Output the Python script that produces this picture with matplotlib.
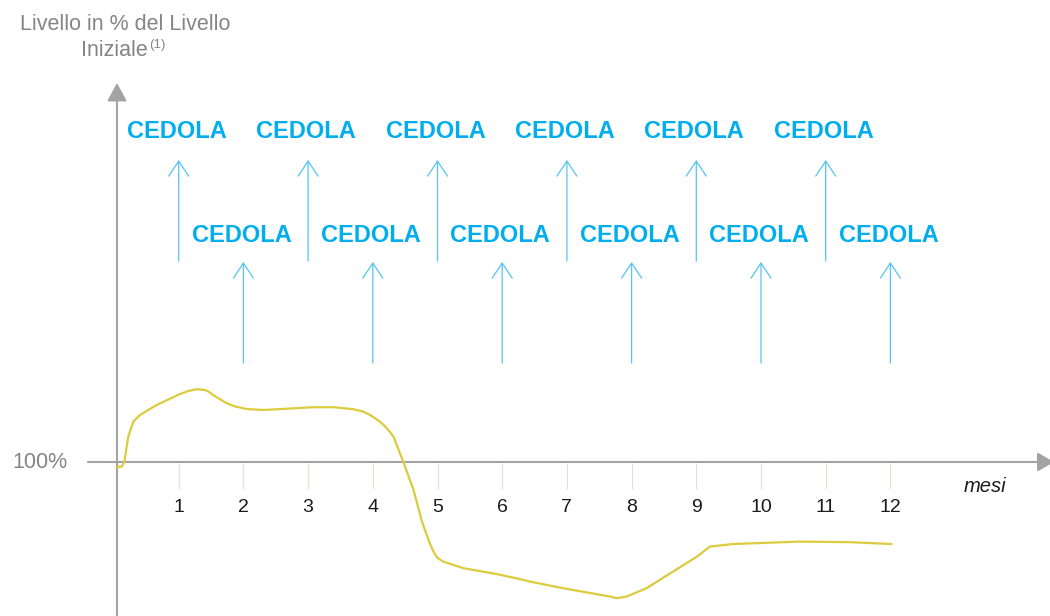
"""
Schematic payoff chart: level (% of initial level) over 12 months,
with monthly coupon ("CEDOLA") arrows above the axis.
"""

import matplotlib

matplotlib.use("Agg")
import matplotlib.pyplot as plt

plt.rcParams["font.family"] = ["Liberation Sans", "DejaVu Sans"]

# ---- data -------------------------------------------------------------
months = list(range(1, 13))
month_labels = [str(m) for m in months]
coupon_label = "CEDOLA"

# underlying level path, in % of initial level
path_month = [0.04, 0.12, 0.16, 0.22, 0.30, 0.40, 0.66, 1.02, 1.15, 1.28,
              1.41, 1.47, 1.53, 1.74, 1.88, 2.05, 2.31, 2.70, 3.08, 3.39,
              3.70, 3.85, 3.96, 4.11, 4.20, 4.32, 4.47, 4.63, 4.76, 4.88,
              4.95, 5.00, 5.09, 5.40, 5.91, 6.28, 6.43, 6.94, 7.67, 7.77,
              7.92, 8.23, 8.64, 9.01, 9.21, 9.57, 10.60, 11.38, 12.02]
path_level = [97.4, 97.7, 100.2, 112.7, 120.2, 123.5, 128.5, 134.0, 135.5, 136.4,
              136.0, 135.0, 133.5, 129.4, 127.7, 126.5, 126.0, 126.7, 127.4, 127.4,
              126.4, 125.2, 123.5, 120.2, 117.5, 112.7, 100.2, 86.0, 70.2, 59.4,
              54.4, 52.0, 50.2, 46.9, 44.0, 41.4, 40.2, 36.9, 32.7, 31.9,
              32.7, 36.9, 45.2, 52.7, 57.7, 59.0, 60.2, 59.9, 59.0]

# ---- style ------------------------------------------------------------
AXIS = "#a3a3a3"
GRAY_TXT = "#858585"
CYAN = "#00aeef"
CYAN_ARROW = "#55c4f2"
CURVE = "#dccb3c"
TICK = "#e4e2d6"

# data coords map to pixels: px = 114 + 64.7*m ; py = 462 - 2*(v - 100)
X0, XS = 114.0, 64.7
W, H = 1050, 616


def mx(px):
    return (px - X0) / XS


def vy(py):
    return 100 + (462 - py) / 2.0


fig = plt.figure(figsize=(10.5, 6.16), dpi=100)
ax = fig.add_axes([0, 0, 1, 1])
ax.set_xlim(mx(0), mx(W))
ax.set_ylim(vy(H), vy(0))
ax.axis("off")

# axes with arrow heads
y_axis_x = mx(117)
ax.annotate("", xy=(y_axis_x, vy(83)), xytext=(y_axis_x, vy(H + 5)),
            annotation_clip=False,
            arrowprops=dict(arrowstyle="-|>,head_length=1.1,head_width=0.6",
                            mutation_scale=10, color=AXIS, lw=1.5,
                            shrinkA=0, shrinkB=0))
ax.annotate("", xy=(mx(1054), 100), xytext=(mx(88), 100),
            annotation_clip=False,
            arrowprops=dict(arrowstyle="-|>,head_length=1.0,head_width=0.58",
                            mutation_scale=10, color=AXIS, lw=1.5,
                            shrinkA=0, shrinkB=0))

# month ticks and labels
for m, lab in zip(months, month_labels):
    ax.plot([m, m], [vy(463.5), vy(488)], color=TICK, lw=0.9, zorder=1)
    ax.text(m, vy(507), lab, ha="center", va="center", fontsize=14, color="#1a1a1a")

ax.text(mx(985), vy(486), "mesi", ha="center", va="center", fontsize=14.5,
        style="italic", color="#1a1a1a")
ax.text(mx(40), 100, "100%", ha="center", va="center", fontsize=15.5, color=GRAY_TXT)

# y-axis title with superscript note
ax.text(mx(125), vy(30), "Livello in % del Livello", ha="center", va="baseline",
        fontsize=15.5, color=GRAY_TXT)
ax.text(mx(148), vy(56), "Iniziale", ha="right", va="baseline",
        fontsize=15.5, color=GRAY_TXT)
ax.text(mx(149), vy(48), "(1)", ha="left", va="baseline",
        fontsize=9.5, color=GRAY_TXT)

# coupon arrows and labels: odd months upper row, even months lower row
for m in months:
    if m % 2 == 1:
        tip, base, lab_y = vy(160), vy(261), vy(132)
    else:
        tip, base, lab_y = vy(262), vy(363), vy(235)
    ax.annotate("", xy=(m, tip), xytext=(m, base),
                arrowprops=dict(arrowstyle="->,head_length=1.08,head_width=0.72",
                                mutation_scale=10, color=CYAN_ARROW, lw=0.9,
                                shrinkA=0, shrinkB=0))
    ax.text(m - 0.03, lab_y, coupon_label, ha="center", va="center",
            fontsize=17, fontweight="bold", color=CYAN)

# underlying path
ax.plot(path_month, path_level, color=CURVE, lw=1.6, solid_joinstyle="round",
        solid_capstyle="round", zorder=3)

fig.savefig("out.png", dpi=100)
